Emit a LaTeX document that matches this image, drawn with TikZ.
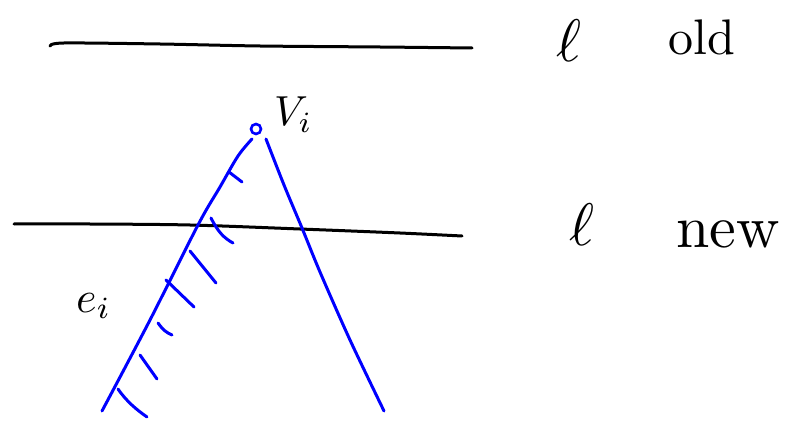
\documentclass[tikz,border=0pt]{standalone}
\usetikzlibrary{calc}
\begin{document}
\begin{tikzpicture}[x=1pt,y=-1pt,
  ink/.style={line width=3pt,line cap=round,line join=round},
  blueink/.style={ink,draw={rgb,255:red,0;green,0;blue,255}},
  hatch/.style={blueink},
  mlbl/.style={inner sep=0pt,anchor=base west,font=\fontsize{10}{12}\selectfont}]
\useasboundingbox[fill=white] (0,0) rectangle (801,433);
% old line
\coordinate (o1) at (50,46);
\coordinate (o2) at (472,48);
\draw[ink] plot[smooth,tension=0.5] coordinates {(o1) (64,43) (160,44) (260,46) (380,47) (o2)};
% new line
\coordinate (n1) at (14,224);
\coordinate (n2) at (462,236);
\draw[ink] plot[smooth,tension=0.5] coordinates {(n1) (90,224) (190,225) (300,229) (400,233) (n2)};
% vertex
\node[draw={rgb,255:red,0;green,0;blue,255},line width=2.6pt,circle,minimum size=10pt,inner sep=0pt] (v) at (256,129) {};
% edges
\coordinate (lb) at (102,411);
\coordinate (rb) at (384,411);
\draw[blueink] plot[smooth,tension=0.55] coordinates {(252,139) (238,156) (220,187) (198,225) (150,320) (lb)};
\draw[blueink] plot[smooth,tension=0.5] coordinates {(266,139) (284,185) (302,228) (320,272) (350,340) (rb)};
% hatches
\draw[hatch] (229,172) -- (242,182);
\draw[hatch] (211,218) .. controls (218,232) and (224,238) .. (233,243);
\draw[hatch] (190,251) -- (216,283);
\draw[hatch] (166,280) -- (194,307);
\draw[hatch] (158,323) .. controls (163,330) and (167,333) .. (172,335);
\draw[hatch] (140,355) -- (157,379);
\draw[hatch] (118,389) .. controls (127,402) and (137,410) .. (147,417);
% labels
\node[mlbl] (lo) at (556,62) {\scalebox{6}{$\ell$}};
\node[mlbl] (old) at (668,55) {\scalebox{5}{old}};
\node[mlbl] (ln) at (569,245) {\scalebox{6}{$\ell$}};
\node[mlbl] (new) at (676,247) {\scalebox{6}{new}};
\node[mlbl] (vi) at (274,126) {\scalebox{4.2}{$V_i$}};
\node[mlbl] (ei) at (76,312) {\scalebox{4.4}{$e_i$}};
\end{tikzpicture}
\end{document}
